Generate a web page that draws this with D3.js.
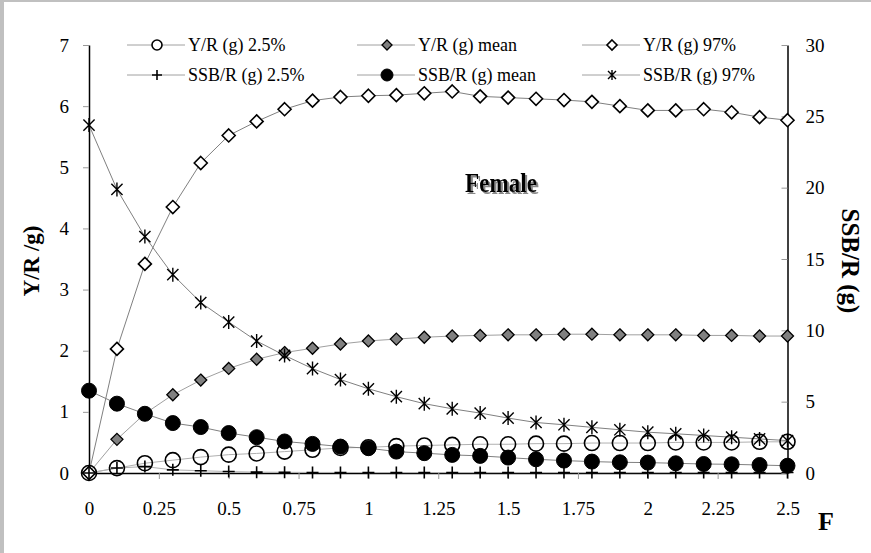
<!DOCTYPE html>
<html>
<head>
<meta charset="utf-8">
<script src="https://cdn.jsdelivr.net/npm/d3@7"></script>
<style>
  body { margin: 0; background: #fff; }
  svg { display: block; }
  text { font-family: "Liberation Serif", "Times New Roman", serif; }
</style>
</head>
<body>
<script>
// fishing mortality values (x axis)
var fValues = [0, 0.1, 0.2, 0.3, 0.4, 0.5, 0.6, 0.7, 0.8, 0.9, 1.0, 1.1, 1.2,
  1.3, 1.4, 1.5, 1.6, 1.7, 1.8, 1.9, 2.0, 2.1, 2.2, 2.3, 2.4, 2.5];

// yield per recruit (left axis)
var yr25 = [0, 0.08, 0.16, 0.21, 0.26, 0.30, 0.32, 0.35, 0.38, 0.41, 0.42, 0.44, 0.45,
  0.46, 0.47, 0.47, 0.48, 0.48, 0.49, 0.49, 0.49, 0.50, 0.50, 0.50, 0.51, 0.51];
var yrMean = [0, 0.55, 0.97, 1.28, 1.52, 1.71, 1.86, 1.97, 2.04, 2.11, 2.16, 2.19, 2.22,
  2.24, 2.25, 2.26, 2.26, 2.27, 2.27, 2.26, 2.26, 2.26, 2.25, 2.25, 2.24, 2.24];
var yr97 = [0, 2.03, 3.42, 4.35, 5.07, 5.52, 5.75, 5.95, 6.09, 6.15, 6.17, 6.18, 6.21,
  6.24, 6.16, 6.14, 6.12, 6.10, 6.07, 6.00, 5.93, 5.93, 5.95, 5.90, 5.82, 5.77];

// spawning stock biomass per recruit (right axis)
var ssb25 = [0, 0.35, 0.45, 0.22, 0.16, 0.10, 0.06, 0.05, 0.04, 0.04, 0.03, 0.03, 0.03,
  0.03, 0.03, 0.03, 0.03, 0.03, 0.03, 0.03, 0.03, 0.03, 0.03, 0.03, 0.03, 0.03];
var ssbMean = [5.77, 4.86, 4.15, 3.50, 3.22, 2.80, 2.51, 2.21, 2.04, 1.85, 1.74, 1.50, 1.39,
  1.27, 1.20, 1.08, 0.96, 0.87, 0.80, 0.75, 0.73, 0.68, 0.63, 0.61, 0.56, 0.51];
var ssb97 = [24.39, 19.88, 16.57, 13.90, 11.95, 10.58, 9.25, 8.24, 7.32, 6.55, 5.90, 5.35, 4.86,
  4.50, 4.20, 3.85, 3.54, 3.38, 3.20, 3.03, 2.86, 2.75, 2.63, 2.51, 2.39, 2.27];

// tick labels
var xTicks = [0, 0.25, 0.5, 0.75, 1, 1.25, 1.5, 1.75, 2, 2.25, 2.5];
var yLeftTicks = [0, 1, 2, 3, 4, 5, 6, 7];
var yRightTicks = [0, 5, 10, 15, 20, 25, 30];

var width = 871, height = 553;

var svg = d3.select("body").append("svg")
  .attr("width", width)
  .attr("height", height);

// shadow for the panel label
var filter = svg.append("defs").append("filter")
  .attr("id", "shadow")
  .attr("x", "-20%").attr("y", "-40%")
  .attr("width", "140%").attr("height", "180%");
filter.append("feDropShadow")
  .attr("dx", 2).attr("dy", 2)
  .attr("stdDeviation", 0.3)
  .attr("flood-color", "#888")
  .attr("flood-opacity", 1);

// grey frame on the left and top edges
svg.append("rect").attr("x", 0).attr("y", 0).attr("width", width).attr("height", height).attr("fill", "#c0c0c0");
svg.append("rect").attr("x", 4).attr("y", 2).attr("width", width - 4).attr("height", height - 2).attr("fill", "#fff");

var x = d3.scaleLinear().domain([0, 2.5]).range([89, 787.5]);
var yL = d3.scaleLinear().domain([0, 7]).range([473, 45]);
var yR = d3.scaleLinear().domain([0, 30]).range([473, 45]);

// marker shapes
function circlePath(r) {
  return "M" + (-r) + ",0A" + r + "," + r + " 0 1,0 " + r + ",0A" + r + "," + r + " 0 1,0 " + (-r) + ",0Z";
}
function diamondPath(r) {
  return "M0," + (-r) + "L" + r + ",0L0," + r + "L" + (-r) + ",0Z";
}
function plusPath(r) {
  return "M" + (-r) + ",0H" + r + "M0," + (-r) + "V" + r;
}
function starPath(r) {
  var a = r * 0.8;
  return "M" + (-a) + "," + (-a) + "L" + a + "," + a + "M" + a + "," + (-a) + "L" + (-a) + "," + a +
    "M0," + (-r) + "V" + r;
}

var series = [
  { name: "Y/R (g) 2.5%", values: yr25, scale: yL, path: circlePath, size: 7.5, legSize: 5, fill: "none", sw: 1.6, line: "#b0b0b0" },
  { name: "Y/R (g) mean", values: yrMean, scale: yL, path: diamondPath, size: 6, legSize: 5, fill: "#808080", sw: 1.3, line: "#a0a0a0" },
  { name: "Y/R (g) 97%", values: yr97, scale: yL, path: diamondPath, size: 6.5, legSize: 5, fill: "#fff", sw: 1.6, line: "#808080" },
  { name: "SSB/R (g) 2.5%", values: ssb25, scale: yR, path: plusPath, size: 6, legSize: 5, fill: "none", sw: 1.6, line: "#b0b0b0" },
  { name: "SSB/R (g) mean", values: ssbMean, scale: yR, path: circlePath, size: 7.5, legSize: 6, fill: "#000", sw: 1, line: "#808080" },
  { name: "SSB/R (g) 97%", values: ssb97, scale: yR, path: starPath, size: 7, legSize: 5, fill: "none", sw: 1.4, line: "#808080" }
];

// axes
var axisFont = "19px";

var xAxis = svg.append("g")
  .attr("transform", "translate(0,473)")
  .call(d3.axisBottom(x).tickValues(xTicks).tickSize(6).tickSizeOuter(0).tickPadding(23)
    .tickFormat(function(d) { return String(d); }));

var leftAxis = svg.append("g")
  .attr("transform", "translate(89,0)")
  .call(d3.axisLeft(yL).tickValues(yLeftTicks).tickSize(6).tickSizeOuter(0).tickPadding(14)
    .tickFormat(d3.format("d")));

var rightAxis = svg.append("g")
  .attr("transform", "translate(787.5,0)")
  .call(d3.axisRight(yR).tickValues(yRightTicks).tickSize(-6).tickSizeOuter(0).tickPadding(18)
    .tickFormat(d3.format("d")));

[xAxis, leftAxis, rightAxis].forEach(function(g) {
  g.select(".domain").attr("stroke", "#000").attr("stroke-width", 1.5);
  g.selectAll(".tick line").attr("stroke", "#999");
  g.selectAll(".tick text")
    .attr("fill", "#000")
    .style("font-family", "'Liberation Serif', serif")
    .style("font-size", axisFont);
});

// series lines
var plot = svg.append("g");
series.forEach(function(s) {
  var line = d3.line()
    .x(function(d, i) { return x(fValues[i]); })
    .y(function(d) { return s.scale(d); });
  plot.append("path")
    .datum(s.values)
    .attr("fill", "none")
    .attr("stroke", s.line)
    .attr("stroke-width", 1)
    .attr("d", line);
});

// series markers
series.forEach(function(s) {
  plot.append("g")
    .selectAll("path")
    .data(s.values)
    .enter().append("path")
    .attr("transform", function(d, i) { return "translate(" + x(fValues[i]) + "," + s.scale(d) + ")"; })
    .attr("d", s.path(s.size))
    .attr("fill", s.fill)
    .attr("stroke", "#000")
    .attr("stroke-width", s.sw);
});

// legend
var legX = [127, 357, 582];
var legY = [45, 75];
var legend = svg.append("g");
series.forEach(function(s, i) {
  var col = i % 3, row = Math.floor(i / 3);
  var lx = legX[col], ly = legY[row];
  var g = legend.append("g").attr("transform", "translate(" + lx + "," + ly + ")");
  g.append("line").attr("x1", 0).attr("x2", 58).attr("y1", 0).attr("y2", 0)
    .attr("stroke", "#a0a0a0").attr("stroke-width", 1);
  g.append("path")
    .attr("transform", "translate(30,0)")
    .attr("d", s.path(s.legSize))
    .attr("fill", s.fill === "none" ? "#fff" : s.fill)
    .attr("stroke", "#000")
    .attr("stroke-width", s.sw);
  g.append("text")
    .attr("x", 61)
    .attr("y", 6)
    .style("font-size", "18px")
    .text(s.name);
});

// axis titles
svg.append("text")
  .attr("transform", "translate(39,261) rotate(-90)")
  .attr("text-anchor", "middle")
  .style("font-size", "23px")
  .style("font-weight", "bold")
  .text("Y/R /g)");

svg.append("text")
  .attr("transform", "translate(842,261) rotate(90)")
  .attr("text-anchor", "middle")
  .style("font-size", "25px")
  .style("font-weight", "bold")
  .text("SSB/R (g)");

svg.append("text")
  .attr("x", 826)
  .attr("y", 530)
  .attr("text-anchor", "middle")
  .style("font-size", "26px")
  .style("font-weight", "bold")
  .text("F");

// panel label
svg.append("text")
  .attr("x", 501)
  .attr("y", 192)
  .attr("text-anchor", "middle")
  .attr("textLength", 72)
  .attr("lengthAdjust", "spacingAndGlyphs")
  .attr("filter", "url(#shadow)")
  .style("font-size", "27px")
  .style("font-weight", "bold")
  .text("Female");
</script>
</body>
</html>
